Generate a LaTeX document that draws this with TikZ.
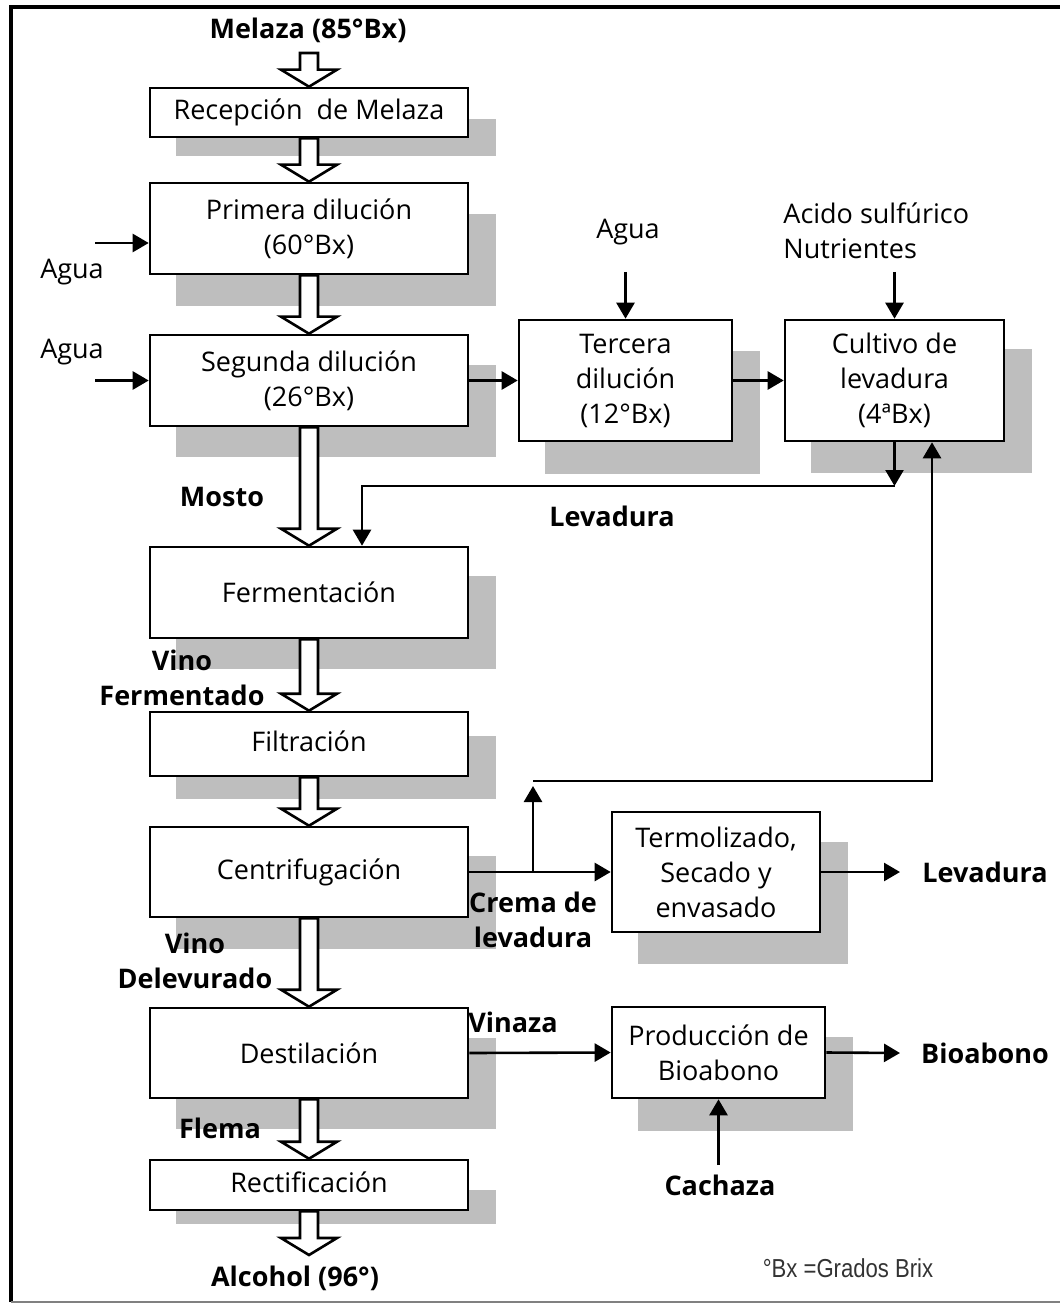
\documentclass[tikz,border=0pt]{standalone}
\usepackage{fontspec}
\setmainfont{Open Sans}
\newfontfamily\notefont{Liberation Sans}[FakeStretch=0.85]
\usetikzlibrary{arrows.meta,calc}
\pgfdeclarelayer{bg}
\pgfsetlayers{bg,main}
\definecolor{shadegray}{RGB}{190,190,190}
\newcommand{\dropshade}[3]{%
  \fill[shadegray] ($(#1.north west)+(27,#2)$) rectangle ($(#1.south east)+(27,#3)$);}
\tikzset{
  txt/.style={font=\fontsize{13.5pt}{17.5pt}\selectfont},
  lab/.style={font=\fontsize{13.5pt}{17.5pt}\selectfont\bfseries, inner sep=0pt, align=center},
  stage/.style 2 args={draw, fill=white, line width=1.3pt, inner sep=0pt, align=center,
    minimum width=#1, minimum height=#2, txt},
  flow/.style={line width=1.3pt, -{Triangle[length=8pt,width=9pt]}},
  fat/.style={draw=black, line width=1.3pt, fill=white, line join=miter,
    to path={let \p1=(\tikztostart), \p2=(\tikztotarget) in
      (\x1-4.5pt,\y1) -- (\x1-4.5pt,\y2+8.5pt) -- (\x1-14pt,\y2+8.5pt) -- (\x1,\y2)
      -- (\x1+14pt,\y2+8.5pt) -- (\x1+4.5pt,\y2+8.5pt) -- (\x1+4.5pt,\y1) -- cycle}}
}
\begin{document}
\begin{tikzpicture}[x=0.5pt,y=-0.5pt]
\useasboundingbox (0,0) rectangle (1060,1304);

% outer frame
\draw[line width=2pt] (11,1302) -- (11,7) -- (1060,7);
\draw[gray, line width=0.8pt] (11,1302) -- (1060,1302);

% main column
\node[stage={159pt}{24.5pt}] (recep) at (309,112.5) {Recepción\ \ de Melaza};
\node[stage={159pt}{45.5pt}] (prim) at (309,228.5) {Primera dilución\\(60°Bx)};
\node[stage={159pt}{45.5pt}] (seg) at (309,380.5) {Segunda dilución\\(26°Bx)};
\node[stage={159pt}{45.5pt}] (ferm) at (309,592.5) {Fermentación};
\node[stage={159pt}{32pt}] (filt) at (309,744) {\raisebox{3pt}{Filtración}};
\node[stage={159pt}{45pt}] (centri) at (309,872) {Centrifugación};
\node[stage={159pt}{45pt}] (dest) at (309,1053) {Destilación};
\node[stage={159pt}{25pt}] (rect) at (309,1185) {\raisebox{2.5pt}{Rectificación}};

% side branches
\node[stage={106.5pt}{60.5pt}] (ter) at (625.5,380.5) {Tercera\\dilución\\(12°Bx)};
\node[stage={109.5pt}{60.5pt}] (cult) at (894.5,380.5) {Cultivo de\\levadura\\(4ªBx)};
\node[stage={104pt}{60pt}] (termo) at (716,872) {Termolizado,\\Secado y\\envasado};
\node[stage={106.5pt}{45.5pt}] (prod) at (718.5,1052.5) {Producción de\\Bioabono};

% page background and drop shadows
\begin{pgfonlayer}{bg}
  \fill[white] (0,0) rectangle (1060,1304);
  \dropshade{recep}{32}{18}
  \dropshade{prim}{32}{31}
  \dropshade{seg}{31}{30}
  \dropshade{ferm}{30}{30}
  \dropshade{filt}{25}{22}
  \dropshade{centri}{30}{31}
  \dropshade{dest}{31}{30}
  \dropshade{rect}{31}{13}
  \dropshade{ter}{32}{32}
  \dropshade{cult}{30}{31}
  \dropshade{termo}{31}{31}
  \dropshade{prod}{31}{32}
\end{pgfonlayer}

% labels
\node[lab] (melaza) at (308,30) {Melaza (85°Bx)};
\node[txt, inner sep=0pt] (agua1) at (72,272) {Agua};
\node[txt, inner sep=0pt] (agua2) at (72,352) {Agua};
\node[txt, inner sep=0pt] (agua3) at (628,232) {Agua};
\node[txt, inner sep=0pt, anchor=west, align=left] (acido) at (783,231) {Acido sulfúrico\\Nutrientes};
\node[lab] (mosto) at (222,497) {Mosto};
\node[lab] (levlbl) at (612,516) {Levadura};
\node[lab] (vinof) at (182,678) {Vino\\Fermentado};
\node[lab] (vinod) at (195,961) {Vino\\Delevurado};
\node[lab] (flema) at (220,1128) {Flema};
\node[lab] (crema) at (533,920) {Crema de\\levadura};
\node[lab] (vinaza) at (513,1022) {Vinaza};
\node[lab] (levout) at (985,872) {Levadura};
\node[lab] (bioout) at (985,1053) {Bioabono};
\node[lab] (cachaza) at (720,1185) {Cachaza};
\node[lab] (alcohol) at (295,1278) {Alcohol (96°)};
\node[inner sep=0pt, text=black!80, font=\notefont\fontsize{13pt}{15pt}\selectfont] (note) at (848,1268) {°Bx =Grados Brix};

% hollow arrows of the main line
\coordinate (m0) at (309,53);
\coordinate (a0) at (309,1255);
\draw[fat] (m0) to (recep.north);
\draw[fat] (recep.south) to (prim.north);
\draw[fat] (prim.south) to (seg.north);
\draw[fat] (seg.south) to (ferm.north);
\draw[fat] (ferm.south) to (filt.north);
\draw[fat] (filt.south) to (centri.north);
\draw[fat] (centri.south) to (dest.north);
\draw[fat] (dest.south) to (rect.north);
\draw[fat] (rect.south) to (a0);

% water inputs
\coordinate (w1) at (95,243);
\coordinate (w2) at (95,380.5);
\coordinate (w3) at (625.5,272);
\coordinate (n1) at (894.5,272);
\draw[flow] (w1) -- (prim.west |- w1);
\draw[flow] (w2) -- (seg.west);
\draw[flow] (w3) -- (ter.north);
\draw[flow] (n1) -- (cult.north);

% dilution chain
\draw[flow] (seg.east) -- (ter.west);
\draw[flow] (ter.east) -- (cult.west);

% yeast to fermentation
\coordinate (d1) at (894.5,486);
\coordinate (d2) at (362,486);
\draw[flow] (cult.south) -- (d1);
\draw[flow] (d1) -| (ferm.north -| d2);

% yeast cream recycle
\coordinate (br) at (533,872);
\coordinate (bt) at (533,781);
\coordinate (bt2) at (533,786);
\coordinate (ux) at (932,781);
\draw[flow] (centri.east) -- (termo.west);
\draw[flow] (br) -- (bt2);
\draw[flow] (bt) -- (ux) -- (cult.south -| ux);

% products
\coordinate (lo) at (900,872);
\coordinate (bo) at (900,1053);
\coordinate (ch) at (718.5,1165);
\draw[flow] (termo.east) -- (lo);
\draw[flow] (dest.east) -- (prod.west);
\draw[flow] (prod.east) -- (bo);
\draw[flow] (ch) -- (prod.south);
\end{tikzpicture}
\end{document}
